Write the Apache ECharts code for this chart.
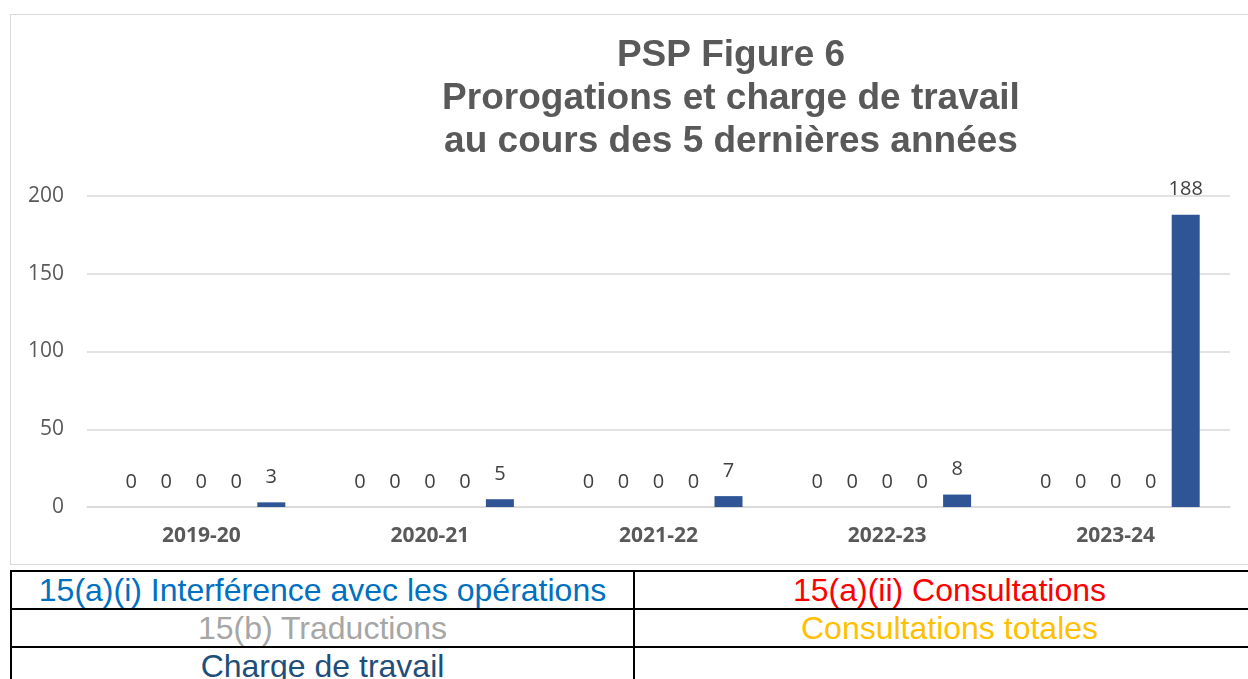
<!DOCTYPE html>
<html>
<head>
<meta charset="utf-8">
<script src="https://cdn.jsdelivr.net/npm/echarts@6/dist/echarts.min.js"></script>
<style>
  html, body { margin: 0; padding: 0; width: 1248px; height: 679px; overflow: hidden; background: #fff; }
  #frame { position: absolute; left: 10px; top: 14px; width: 1250px; height: 551px; border: 1px solid #d9d9d9; box-sizing: border-box; }
  #chart { position: absolute; left: 0; top: 0; width: 1248px; height: 566px; }
  #legend { position: absolute; left: 10px; top: 570px; width: 1256px; table-layout: fixed; border-collapse: collapse; font-family: "Liberation Sans", Arial, sans-serif; font-size: 32px; }
  #legend td { border: 2px solid #000; text-align: center; padding: 0; height: 36px; line-height: 36px; white-space: nowrap; }
</style>
</head>
<body>
<div id="frame"></div>
<div id="chart"></div>
<table id="legend">
  <tr><td style="width:621px;color:#0070c0">15(a)(i) Interférence avec les opérations</td><td style="color:#ff0000">15(a)(ii) Consultations</td></tr>
  <tr><td style="color:#a6a6a6">15(b) Traductions</td><td style="color:#ffc000">Consultations totales</td></tr>
  <tr><td style="color:#1f4e79">Charge de travail</td><td></td></tr>
</table>
<script>
// PSP Figure 6 - prorogations et charge de travail
const categories = ['2019-20', '2020-21', '2021-22', '2022-23', '2023-24'];
const interference = [0, 0, 0, 0, 0];
const consultations = [0, 0, 0, 0, 0];
const traductions = [0, 0, 0, 0, 0];
const consultTotales = [0, 0, 0, 0, 0];
const chargeTravail = [3, 5, 7, 8, 188];
const yTicks = [0, 50, 100, 150, 200];

const myChart = echarts.init(document.getElementById('chart'));

const labelStyle = {
  show: true,
  position: 'top',
  distance: 15,
  color: '#404040',
  fontSize: 20,
  fontFamily: 'Open Sans'
};

const mkSeries = (name, data, color) => ({
  name: name,
  type: 'bar',
  data: data,
  barWidth: 28,
  barGap: '25%',
  itemStyle: { color: color },
  label: labelStyle
});

const option = {
  animation: false,
  title: {
    text: 'PSP Figure 6\nProrogations et charge de travail\nau cours des 5 dernières années',
    left: 731,
    top: 34,
    textAlign: 'center',
    padding: 0,
    textStyle: {
      fontFamily: 'Liberation Sans',
      fontSize: 37,
      fontWeight: 'bold',
      lineHeight: 43,
      color: '#595959'
    }
  },
  grid: { left: 87, right: 18, top: 196, bottom: 59 },
  xAxis: {
    type: 'category',
    data: categories,
    axisLine: { lineStyle: { color: '#d9d9d9', width: 1.5 } },
    axisTick: { show: false },
    axisLabel: {
      margin: 19,
      fontFamily: 'Open Sans',
      fontWeight: 'bold',
      fontSize: 21,
      color: '#595959'
    }
  },
  yAxis: {
    type: 'value',
    min: yTicks[0],
    max: yTicks[yTicks.length - 1],
    interval: 50,
    axisLine: { show: false },
    axisTick: { show: false },
    splitLine: { lineStyle: { color: '#d9d9d9', width: 1.5 } },
    axisLabel: {
      margin: 23,
      fontFamily: 'Open Sans',
      fontSize: 21,
      color: '#595959'
    }
  },
  series: [
    mkSeries('15(a)(i) Interférence avec les opérations', interference, '#0070c0'),
    mkSeries('15(a)(ii) Consultations', consultations, '#ff0000'),
    mkSeries('15(b) Traductions', traductions, '#a6a6a6'),
    mkSeries('Consultations totales', consultTotales, '#ffc000'),
    mkSeries('Charge de travail', chargeTravail, '#2f5597')
  ]
};

myChart.setOption(option);
</script>
</body>
</html>
